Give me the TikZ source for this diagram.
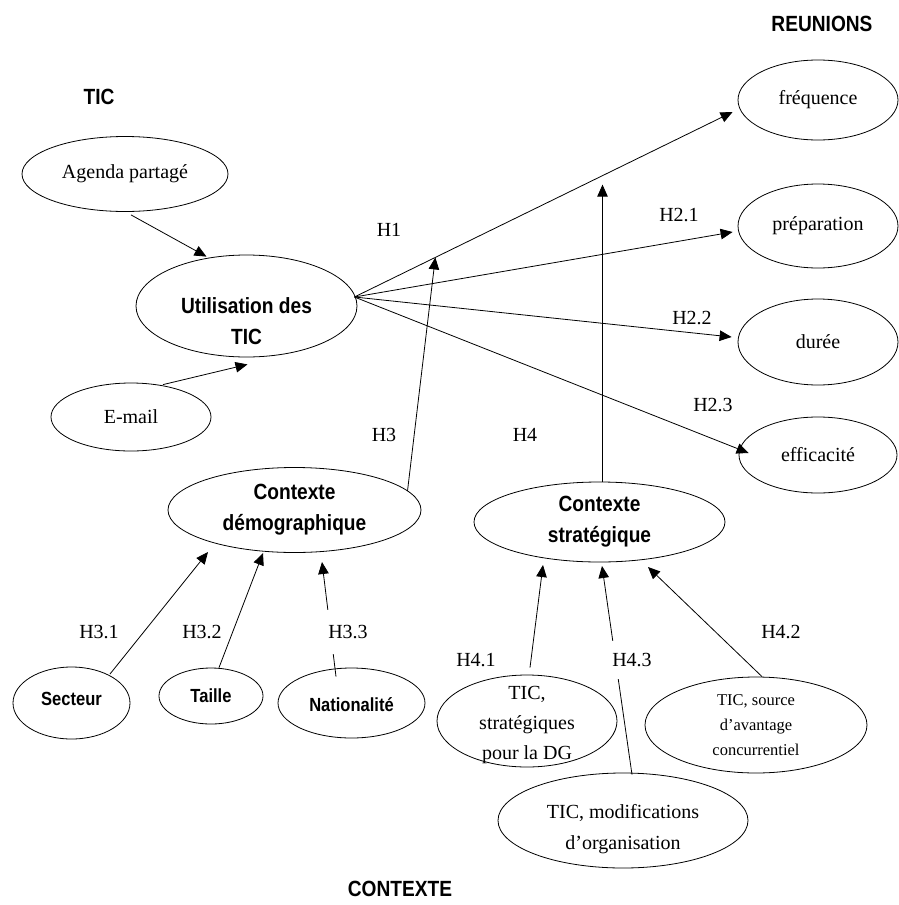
\documentclass[tikz,border=0pt]{standalone}
\usepackage{fontspec}
\newfontfamily\timesf{Liberation Serif}
\newfontfamily\sansb[FakeStretch=0.87]{Liberation Sans}
\usetikzlibrary{shapes.geometric,arrows.meta,calc}
\begin{document}
\begin{tikzpicture}[x=1pt,y=-1pt,
  ell/.style={draw, ellipse, inner sep=0pt, line width=0.8pt},
  tr/.style={font=\timesf\fontsize{20}{27}\selectfont, align=center},
  trs/.style={font=\timesf\fontsize{16.5}{25}\selectfont, align=center},
  sb/.style={font=\sansb\bfseries\fontsize{22}{31}\selectfont, align=center},
  ss/.style={font=\sansb\bfseries\fontsize{19}{24}\selectfont, align=center},
  arr/.style={draw, line width=0.8pt, -{Triangle[length=12pt,width=10.5pt]}},
  lab/.style={tr, inner sep=1pt},
  cut/.style={fill=white, inner xsep=3pt, inner ysep=14pt}]
\fill[white] (0,0) rectangle (898,905);
\useasboundingbox (0,0) rectangle (898,905);

% headings
\node[sb] (hreu) at (822,24) {REUNIONS};
\node[sb] (htic) at (99,97) {TIC};
\node[sb] (hctx) at (400,889) {CONTEXTE};

% TIC side
\node[ell, minimum width=206pt, minimum height=75pt, label={[tr]center:Agenda partagé}] (agenda) at (125,174) {};
\node[ell, minimum width=221pt, minimum height=102pt, label={[sb, yshift=-15pt]center:{Utilisation des\\TIC}}] (util) at (246.5,306) {};
\node[ell, minimum width=160pt, minimum height=68pt, label={[tr]center:E-mail}] (email) at (131,417) {};

% REUNIONS side
\node[ell, minimum width=160pt, minimum height=80pt, label={[tr]center:fréquence}] (freq) at (818,100) {};
\node[ell, minimum width=160pt, minimum height=84pt, label={[tr]center:préparation}] (prep) at (818,226) {};
\node[ell, minimum width=160pt, minimum height=86pt, label={[tr]center:durée}] (duree) at (818,342) {};
\node[ell, minimum width=158pt, minimum height=76pt, label={[tr]center:efficacité}] (effic) at (818,455) {};

% contexte demographique
\node[ell, minimum width=253pt, minimum height=85pt, label={[sb]center:{Contexte\\démographique}}] (demo) at (294.5,510) {};
\node[ell, minimum width=117pt, minimum height=72pt, label={[ss, yshift=4pt]center:Secteur}] (sect) at (71.5,703) {};
\node[ell, minimum width=104pt, minimum height=56pt, label={[ss]center:Taille}] (taille) at (211,696) {};
\node[ell, minimum width=147pt, minimum height=70pt, label={[ss, yshift=-2pt]center:Nationalité}] (nat) at (351.5,703) {};

% contexte strategique
\node[ell, minimum width=251pt, minimum height=80pt, label={[sb]center:{Contexte\\stratégique}}] (strat) at (599.5,522) {};
\node[ell, minimum width=180pt, minimum height=92pt, label={[tr, yshift=-4pt, font=\timesf\fontsize{20}{30}\selectfont]center:{TIC,\\stratégiques\\pour la DG}}] (s1) at (527,721) {};
\node[ell, minimum width=222pt, minimum height=96pt, label={[trs]center:{TIC, source\\d’avantage\\concurrentiel}}] (s2) at (756,725) {};
\node[ell, minimum width=250pt, minimum height=95pt, label={[tr, yshift=-9pt, font=\timesf\fontsize{20}{31}\selectfont]center:{TIC, modifications\\d’organisation}}] (s3) at (623,820.5) {};

% connectors
\coordinate (o) at ($(util.east)+(-3,-9)$);
\coordinate (tf) at ($(freq.west)+(-5,12)$);
\draw[arr] (o) -- (tf);
\draw[arr] (o) -- ($(prep.west)+(-5,6)$);
\draw[arr] (o) -- ($(duree.west)+(-6,-5)$);
\draw[arr] (o) -- ($(effic.west)+(10,-2)$);
\draw[arr] ($(agenda.south)+(6,3)$) -- ($(util.north)+(-40,2)$);
\draw[arr] ($(email.north)+(32,2)$) -- ($(util.south)+(1,7)$);

\coordinate (h3t) at ($(o)!0.214!(tf)$);
\draw[arr] ($(demo.center)+(113,-19)$) -- (h3t);
\coordinate (h4t) at ($(o)!0.656!(tf)+(0,9)$);
\draw[arr] (strat.north -| h4t) -- (h4t);

\draw[arr] ($(sect.center)+(38.5,-29)$) -- ($(demo.center)+(-86.5,42)$);
\draw[arr] ($(taille.north)+(8,0)$) -- ($(demo.center)+(-31.5,43)$);
\draw[arr] ($(nat.north)+(-15.5,9)$) -- ($(demo.center)+(27.5,52)$);

\draw[arr] ($(s1.north)+(3,-7)$) -- ($(strat.center)+(-56.5,43)$);
\draw[arr] ($(s3.north)+(9,2)$) -- ($(strat.center)+(2.5,44)$);
\draw[arr] ($(s2.north)+(6,0)$) -- ($(strat.center)+(48.5,45)$);

% hypothesis labels
\node[lab] (l1) at (389,230) {H1};
\node[lab] (l21) at (679,215) {H2.1};
\node[lab] (l22) at (692,318) {H2.2};
\node[lab] (l23) at (713,405) {H2.3};
\node[lab] (l3) at (384,435) {H3};
\node[lab] (l4) at (525,435) {H4};
\node[lab] (l31) at (99,632) {H3.1};
\node[lab] (l32) at (202,632) {H3.2};
\node[lab, cut, inner ysep=15pt] (l33) at (348,632) {H3.3};
\node[lab] (l41) at (476,660) {H4.1};
\node[lab, cut, inner ysep=12pt] (l43) at (632,660) {H4.3};
\node[lab] (l42) at (781,632) {H4.2};
\end{tikzpicture}
\end{document}
